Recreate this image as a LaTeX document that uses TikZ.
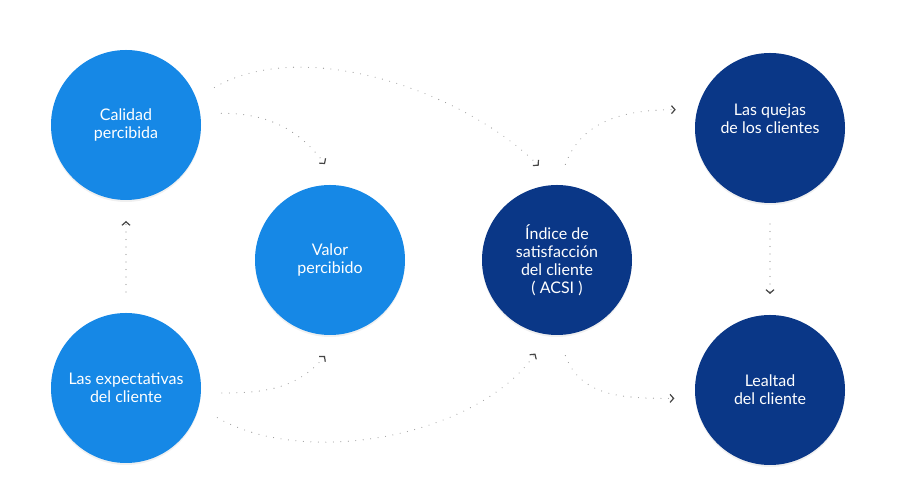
\documentclass[tikz,border=0pt]{standalone}
\usepackage{fontspec}
\setmainfont{Lato}
\usepackage{xcolor}
\usepackage{tikz}
\usetikzlibrary{arrows.meta, shadows}
\definecolor{ACSILight}{RGB}{22,136,230}
\definecolor{ACSIDark}{RGB}{10,55,135}
\definecolor{ACSIDots}{RGB}{150,150,150}
\definecolor{ACSITip}{RGB}{70,70,70}
\tikzset{
    ballnode/.style={
        circle, minimum size=150pt, inner sep=0pt, outer sep=21pt,
        text=white, align=center, font=\fontsize{16}{18}\selectfont,
        drop shadow={shadow xshift=0pt, shadow yshift=-2pt, opacity=0.12}
    },
    lightball/.style={
        ballnode, fill=ACSILight
    },
    darkball/.style={
        ballnode, fill=ACSIDark
    },
    link/.style={
        ACSIDots, line width=1.1pt, line cap=round, dash pattern=on 0pt off 7.5pt,
        -{Straight Barb[length=3.5pt, width=8pt, line width=1.2pt, color=ACSITip]}
    }
}

\begin{document}
\begin{tikzpicture}[x=1pt, y=1pt]
    \useasboundingbox (0,0) rectangle (900,494);

    % --- CIRCLES ---
    \node[lightball] (calidad) at (126,369) {Calidad\\percibida};
    \node[lightball] (expect) at (126,106) {Las expectativas\\del cliente};
    \node[lightball] (valor) at (330,234) {Valor\\percibido};
    \node[darkball] (indice) at (557,234) {Índice de\\satisfacción\\del cliente\\( ACSI )};
    \node[darkball] (quejas) at (770,366) {Las quejas\\de los clientes\\\mbox{}};
    \node[darkball] (lealtad) at (770,104) {Lealtad\\del cliente};

    % --- DOTTED ARROWS ---
    \draw[link] (calidad.23) to[out=30, in=135, looseness=0.8] (indice.101);
    \draw[link] (calidad.7) to[out=0, in=127] (valor.93);
    \draw[link] (expect.-3) to[out=0, in=230] (valor.267);
    \draw[link] (expect.-18) to[out=-30, in=235, looseness=0.8] (indice.257);
    \draw[link] (indice.85) to[out=70, in=180] (quejas.169);
    \draw[link] (indice.-85) to[out=-70, in=180] (lealtad.185);
    \draw[link] (expect) -- (calidad);
    \draw[link] (quejas) -- (lealtad);

\end{tikzpicture}
\end{document}
